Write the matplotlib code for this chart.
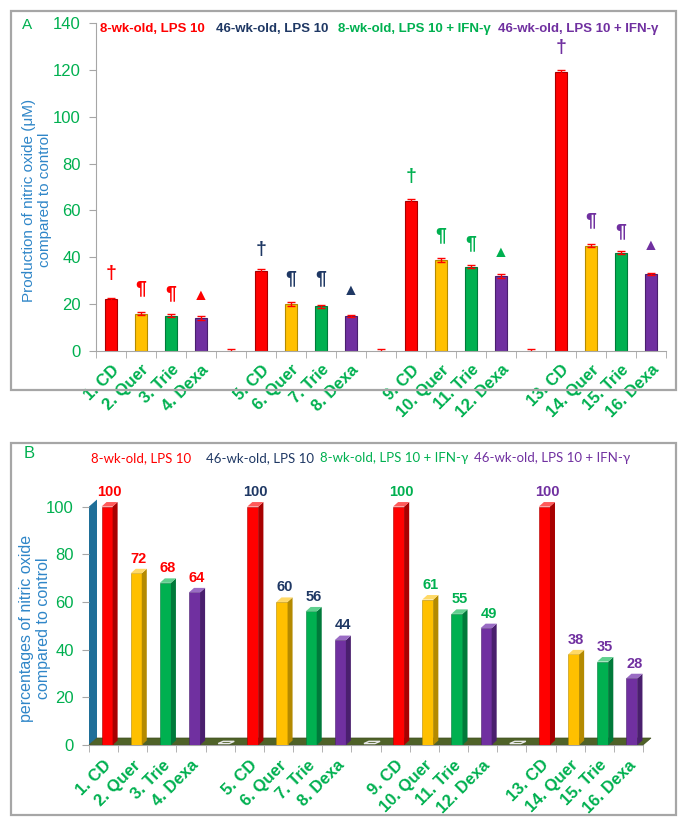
import matplotlib
matplotlib.use("Agg")
import matplotlib.pyplot as plt
from matplotlib.patches import Polygon, Rectangle

# slot labels (gaps are empty slots between groups)
labels = ["1. CD", "2. Quer", "3. Trie", "4. Dexa", "",
          "5. CD", "6. Quer", "7. Trie", "8. Dexa", "",
          "9. CD", "10. Quer", "11. Trie", "12. Dexa", "",
          "13. CD", "14. Quer", "15. Trie", "16. Dexa"]

# panel A: nitric oxide (uM)
no_um = [22, 16, 15, 14, 0, 34, 20, 19, 15, 0, 64, 39, 36, 32, 0, 119, 45, 42, 33]
no_err = [0.8, 0.8, 0.6, 0.8, 0.8, 0.8, 0.8, 0.8, 0.5, 0.8,
          0.8, 0.8, 0.5, 0.8, 0.8, 0.8, 0.6, 0.6, 0.5]
sig_marks = ["†", "¶", "¶", "▲", "", "†", "¶", "¶", "▲", "",
             "†", "¶", "¶", "▲", "", "†", "¶", "¶", "▲"]
sig_y = [33, 26.7, 24.6, 23.6, 0, 43.3, 30.7, 30.7, 25.7, 0,
         74.3, 49.3, 45.7, 42.1, 0, 129.5, 55.7, 50.7, 45]

# panel B: percentages of control
pct = [100, 72, 68, 64, 0, 100, 60, 56, 44, 0, 100, 61, 55, 49, 0, 100, 38, 35, 28]

legend_txt = ["8-wk-old, LPS 10", "46-wk-old, LPS 10",
              "8-wk-old, LPS 10 + IFN-γ", "46-wk-old, LPS 10 + IFN-γ"]

RED, YEL, GRN, PUR = "#ff0000", "#ffc000", "#00b050", "#7030a0"
NAVY = "#1f3864"
group_cols = [RED, NAVY, GRN, PUR]
bar_cols = [RED, YEL, GRN, PUR, "none"] * 3 + [RED, YEL, GRN, PUR]
side_cols = {RED: "#a80000", YEL: "#b48a00", GRN: "#007a3a", PUR: "#4a1f6e"}
top_cols = {RED: "#ff5a5a", YEL: "#ffd966", GRN: "#5fd08e", PUR: "#9a6cc4"}
TXT_BLUE = "#2f86c8"
GREY = "#a6a6a6"
FONT = ["Liberation Sans", "DejaVu Sans"]

plt.rcParams["font.family"] = FONT

W, H = 685, 825
fig = plt.figure(figsize=(W / 100, H / 100), dpi=100)


def fx(px):
    return px / W


def fy(py):
    return 1 - py / H


# panel frames
for top, bot in [(11, 390), (443, 815)]:
    fig.patches.append(Rectangle((fx(11), fy(bot)), fx(676) - fx(11), fy(top) - fy(bot),
                                 transform=fig.transFigure, fill=False,
                                 edgecolor=GREY, linewidth=1.6))

x = list(range(len(labels)))
n = len(labels)

# ---------------- panel A ----------------
axA = fig.add_axes([fx(96), fy(351), fx(666) - fx(96), fy(23) - fy(351)])
real = [i for i in x if bar_cols[i] != "none"]
axA.bar([x[i] for i in real], [no_um[i] for i in real], width=0.43,
        color=[bar_cols[i] for i in real],
        edgecolor=[side_cols[bar_cols[i]] for i in real], linewidth=0.8, zorder=2)
axA.errorbar(x, no_um, yerr=no_err, fmt="none", ecolor=RED, elinewidth=1,
             capsize=3, capthick=1, zorder=3)
for i in x:
    if sig_marks[i]:
        axA.text(i, sig_y[i], sig_marks[i], ha="center", va="center",
                 fontsize=14 if sig_marks[i] != "▲" else 11.5, fontweight="bold",
                 color=group_cols[i // 5], family=FONT)
axA.set_xlim(-0.5, n - 0.5)
axA.set_ylim(0, 140)
axA.set_yticks(range(0, 141, 20))
axA.set_xticks(x)
axA.set_xticklabels(labels, rotation=45, ha="right", va="top", rotation_mode="anchor",
                    fontsize=12, fontweight="bold", color=GRN)
axA.set_xticks([i - 0.5 for i in range(n + 1)], minor=True)
axA.tick_params(axis="x", which="major", length=0, pad=8)
axA.tick_params(axis="x", which="minor", length=5, color=GREY)
axA.tick_params(axis="y", length=5, color=GREY, labelsize=12, labelcolor=GRN, pad=6)
for s in ["top", "right"]:
    axA.spines[s].set_visible(False)
for s in ["left", "bottom"]:
    axA.spines[s].set_color(GREY)
axA.set_ylabel("Production of nitric oxide (μM)\ncompared to control", fontsize=11,
               color=TXT_BLUE)
axA.yaxis.set_label_coords(-0.077, 0.46)

fig.text(fx(27), fy(25), "A", fontsize=11, color=GRN, ha="center", va="center")
for txt, col, px in zip(legend_txt, group_cols, [152.5, 272, 414, 578.5]):
    fig.text(fx(px), fy(29), txt, fontsize=9.5, fontweight="bold", color=col,
             ha="center", va="center")

# ---------------- panel B ----------------
axB = fig.add_axes([fx(89), fy(745), fx(643) - fx(89), fy(497) - fy(745)])
axB.set_xlim(-0.5, n - 0.5)
axB.set_ylim(0, 104)
ux = (n) / (643 - 89)
uy = 104 / (745 - 497)
fdx, fdy = 8 * ux, 7 * uy
bdx, bdy = 5 * ux, 4.5 * uy
bw = 0.38
off = 0.12

# wall and floor
axB.add_patch(Polygon([(-0.5, 0), (-0.5, 100), (-0.5 + fdx, 100 + fdy), (-0.5 + fdx, fdy)],
                      closed=True, facecolor="#1f6f98", edgecolor="none", clip_on=False, zorder=1))
axB.add_patch(Polygon([(-0.5, 0), (n - 0.5, 0), (n - 0.5 + fdx, fdy), (-0.5 + fdx, fdy)],
                      closed=True, facecolor="#4f6228", edgecolor="#3d4d1e", linewidth=0.5,
                      clip_on=False, zorder=1))

for i in x:
    xc = i + off
    v = pct[i]
    if bar_cols[i] == "none":
        axB.add_patch(Polygon([(xc - bw / 2, 0.6), (xc + bw / 2, 0.6),
                               (xc + bw / 2 + bdx, 0.6 + bdy * 0.5), (xc - bw / 2 + bdx, 0.6 + bdy * 0.5)],
                              closed=True, facecolor="#4f6228", edgecolor="#e8e8e8",
                              linewidth=1, zorder=2))
        continue
    c = bar_cols[i]
    axB.bar(xc, v, width=bw, color=c, edgecolor=side_cols[c], linewidth=0.4, zorder=3)
    axB.add_patch(Polygon([(xc + bw / 2, 0), (xc + bw / 2 + bdx, bdy),
                           (xc + bw / 2 + bdx, v + bdy), (xc + bw / 2, v)],
                          closed=True, facecolor=side_cols[c], edgecolor="none",
                          clip_on=False, zorder=3))
    axB.add_patch(Polygon([(xc - bw / 2, v), (xc - bw / 2 + bdx, v + bdy),
                           (xc + bw / 2 + bdx, v + bdy), (xc + bw / 2, v)],
                          closed=True, facecolor=top_cols[c], edgecolor="none",
                          clip_on=False, zorder=3))
    axB.text(xc + bdx / 2, v + 3.2, str(v), ha="center", va="bottom", fontsize=10.5,
             fontweight="bold", color=group_cols[i // 5], clip_on=False)

axB.set_yticks(range(0, 101, 20))
axB.set_xticks(x)
axB.set_xticklabels(labels, rotation=45, ha="right", va="top", rotation_mode="anchor",
                    fontsize=12, fontweight="bold", color=GRN)
axB.set_xticks([i - 0.5 for i in range(n + 1)], minor=True)
axB.tick_params(axis="x", which="major", length=0, pad=9)
axB.tick_params(axis="x", which="minor", length=5, color=GREY)
axB.tick_params(axis="y", length=5, color=GREY, labelsize=12, labelcolor=GRN, pad=6)
for s in ["top", "right", "left"]:
    axB.spines[s].set_visible(False)
axB.spines["bottom"].set_color(GREY)
axB.set_ylabel("percentages of nitric oxide\ncompared to control", fontsize=11.5,
               color=TXT_BLUE)
axB.yaxis.set_label_coords(-0.068, 0.47)

fig.text(fx(29), fy(454), "B", fontsize=12, color=GRN, ha="center", va="center")
for txt, col, px in zip(legend_txt, group_cols, [141.5, 260, 394, 552.5]):
    fig.text(fx(px), fy(458), txt, fontsize=9.5, color=col, family=["Lato", "DejaVu Sans"],
             ha="center", va="center")

fig.savefig("out.png", dpi=100)
